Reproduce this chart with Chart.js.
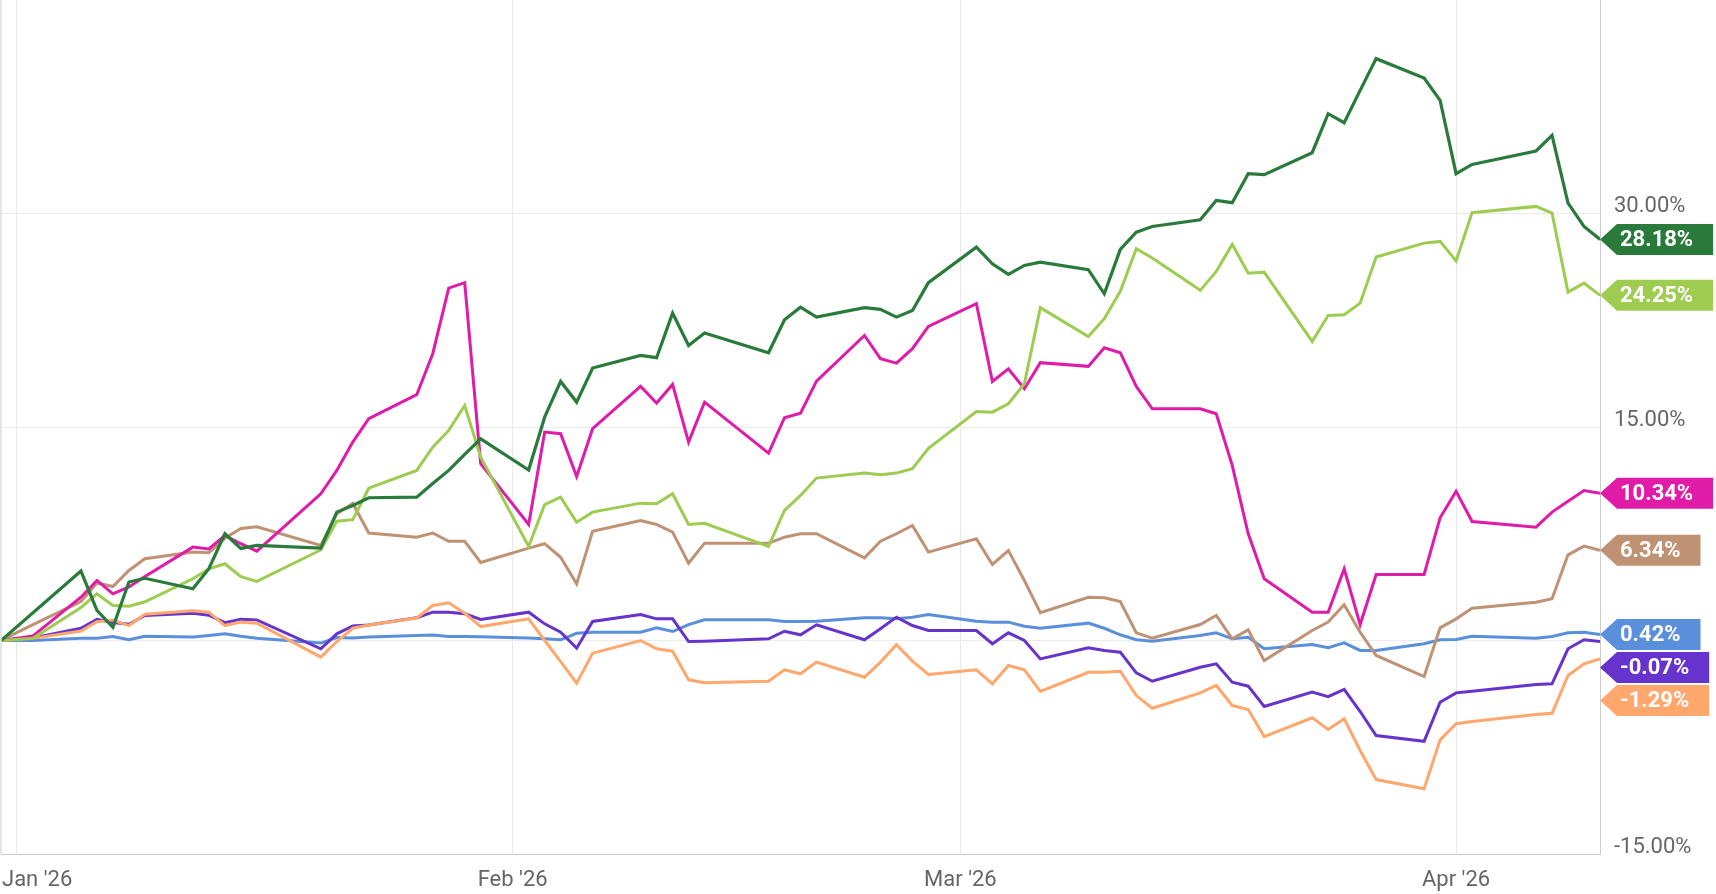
<!DOCTYPE html>
<html>
<head>
<meta charset="utf-8">
<title>Performance since Dec 31</title>
<script src="https://cdn.jsdelivr.net/npm/chart.js@4.4.1/dist/chart.umd.min.js"></script>
<style>
    html, body { margin: 0; padding: 0; background: #ffffff; }
    .chart-wrap { position: relative; width: 1716px; height: 894px; }
</style>
</head>
<body>
<div class="chart-wrap"><canvas id="performanceChart"></canvas></div>
<script>
// --- Data (percent change since Dec 31) ---
const tradeDates = [
    '2025-12-31',
    '2026-01-02', '2026-01-05', '2026-01-06', '2026-01-07', '2026-01-08', '2026-01-09',
    '2026-01-12', '2026-01-13', '2026-01-14', '2026-01-15', '2026-01-16',
    '2026-01-20', '2026-01-21', '2026-01-22', '2026-01-23',
    '2026-01-26', '2026-01-27', '2026-01-28', '2026-01-29', '2026-01-30',
    '2026-02-02', '2026-02-03', '2026-02-04', '2026-02-05', '2026-02-06',
    '2026-02-09', '2026-02-10', '2026-02-11', '2026-02-12', '2026-02-13',
    '2026-02-17', '2026-02-18', '2026-02-19', '2026-02-20',
    '2026-02-23', '2026-02-24', '2026-02-25', '2026-02-26', '2026-02-27',
    '2026-03-02', '2026-03-03', '2026-03-04', '2026-03-05', '2026-03-06',
    '2026-03-09', '2026-03-10', '2026-03-11', '2026-03-12', '2026-03-13',
    '2026-03-16', '2026-03-17', '2026-03-18', '2026-03-19', '2026-03-20',
    '2026-03-23', '2026-03-24', '2026-03-25', '2026-03-26', '2026-03-27',
    '2026-03-30', '2026-03-31',
    '2026-04-01', '2026-04-02', '2026-04-06', '2026-04-07', '2026-04-08', '2026-04-09', '2026-04-10'
];

const darkGreen = [
    0, null, 4.88, 2.11, 0.93, 4.11, 4.37,
    3.63, 5.04, 7.50, 6.47, 6.68,
    6.49, 9.02, 9.49, 10.03,
    10.07, 11.03, 11.95, 13.07, 14.17,
    11.98, 15.69, 18.20, 16.75, 19.14,
    20.03, 19.87, 23.00, 20.73, 21.60,
    20.22, 22.54, 23.42, 22.72,
    23.38, 23.26, 22.72, 23.19, 25.14,
    27.64, 26.47, 25.72, 26.35, 26.58,
    26.05, 24.36, 27.48, 28.69, 29.09,
    29.56, 30.92, 30.76, 32.80, 32.73,
    34.27, 37.01, 36.38, 38.65, 40.88,
    39.52, 37.95,
    32.80, 33.45, 34.39, 35.49, 30.73, 29.09, 28.18
];

const lightGreen = [
    0, 0.15, 2.32, 3.28, 2.46, 2.41, 2.72,
    4.34, 5.04, 5.39, 4.48, 4.15,
    6.36, 8.38, 8.49, 10.70,
    11.95, 13.58, 14.76, 16.51, 12.88,
    6.61, 9.54, 10.07, 8.31, 9.02,
    9.65, 9.61, 10.31, 8.15, 8.24,
    6.61, 9.14, 10.19, 11.41,
    11.76, 11.64, 11.76, 12.07, 13.51,
    16.09, 16.04, 16.63, 18.04, 23.38,
    21.36, 22.61, 24.53, 27.53, 26.87,
    24.60, 25.93, 27.83, 25.81, 25.88,
    21.01, 22.84, 22.89, 23.70, 26.94,
    27.92, 28.04,
    26.66, 30.06, 30.50, 30.03, 24.48, 25.11, 24.25
];

const magenta = [
    0, 0.32, 3.04, 4.22, 3.28, 3.76, 4.50,
    6.56, 6.43, 7.38, 6.80, 6.28,
    10.31, 11.95, 13.94, 15.58,
    17.27, 20.15, 24.76, 25.14, 12.42,
    8.15, 14.64, 14.53, 11.52, 14.88,
    17.85, 16.68, 17.99, 13.94, 16.75,
    13.16, 15.65, 15.97, 18.22,
    21.43, 19.80, 19.49, 20.50, 22.07,
    23.66, 18.20, 19.09, 17.69, 19.52,
    19.26, 20.57, 20.22, 17.85, 16.28,
    16.28, 15.93, 12.30, 7.50, 4.34,
    1.99, 1.99, 5.04, 1.12, 4.64,
    4.64, 8.62,
    10.49, 8.36, 7.96, 9.02, 9.79, 10.54, 10.34
];

const tan = [
    0, 1.12, 2.74, 4.04, 3.79, 4.92, 5.74,
    6.22, 6.16, 7.18, 7.87, 7.99,
    6.68, 8.90, 9.63, 7.55,
    7.26, 7.55, 6.97, 6.97, 5.48,
    6.49, 6.80, 5.85, 3.98, 7.68,
    8.43, 8.15, 7.61, 5.43, 6.84,
    6.84, 7.26, 7.50, 7.50,
    5.81, 6.98, 7.50, 8.08, 6.21,
    7.15, 5.34, 6.32, 4.22, 1.95,
    3.04, 3.00, 2.74, 0.54, 0.16,
    1.12, 1.76, 0.12, 0.75, -1.41,
    0.70, 1.29, 2.51, 0.58, -1.05,
    -2.53, 0.89,
    1.52, 2.27, 2.69, 2.93, 6.02, 6.63, 6.34
];

const blue = [
    0, 0, 0.16, 0.16, 0.28, 0.05, 0.30,
    0.25, 0.35, 0.47, 0.30, 0.16,
    -0.18, 0.21, 0.18, 0.25,
    0.35, 0.39, 0.28, 0.28, 0.26,
    0.18, 0.12, 0.05, 0.51, 0.58,
    0.58, 0.89, 0.63, 1.12, 1.45,
    1.45, 1.34, 1.34, 1.36,
    1.60, 1.60, 1.52, 1.64, 1.83,
    1.36, 1.29, 1.29, 1.00, 0.86,
    1.22, 0.86, 0.40, 0.05, -0.05,
    0.35, 0.54, 0.12, 0.23, -0.58,
    -0.28, -0.51, -0.16, -0.70, -0.70,
    -0.23, 0.05,
    0.07, 0.30, 0.16, 0.28, 0.54, 0.58, 0.42
];

const purple = [
    0, 0.18, 0.86, 1.48, 1.26, 1.14, 1.76,
    1.92, 1.78, 1.25, 1.50, 1.45,
    -0.58, 0.47, 1.02, 1.09,
    1.60, 1.99, 1.99, 1.88, 1.48,
    1.99, 1.17, 0.58, -0.54, 1.34,
    1.83, 1.52, 1.52, -0.07, -0.05,
    0.12, 0.65, 0.40, 1.10,
    0.05, 0.82, 1.64, 1.05, 0.70,
    0.70, -0.23, 0.54, 0.00, -1.29,
    -0.51, -0.70, -0.82, -2.27, -2.86,
    -1.88, -1.64, -2.93, -3.21, -4.64,
    -3.63, -3.94, -3.44, -4.99, -6.68,
    -7.08, -4.34,
    -3.68, -3.56, -3.09, -3.04, -0.58, 0.05, -0.07
];

const orange = [
    0, 0.15, 0.67, 1.32, 1.44, 1.05, 1.85,
    2.09, 1.99, 1.05, 1.29, 1.22,
    -1.17, -0.07, 0.86, 1.09,
    1.58, 2.46, 2.65, 1.91, 0.98,
    1.52, 0.00, -1.48, -3.00, -0.89,
    0.00, -0.58, -0.75, -2.76, -2.97,
    -2.86, -2.06, -2.34, -1.52,
    -2.58, -1.52, -0.30, -1.45, -2.39,
    -2.06, -3.04, -1.76, -2.06, -3.58,
    -2.23, -2.23, -2.16, -3.87, -4.76,
    -3.68, -3.16, -4.57, -4.85, -6.75,
    -5.43, -6.25, -5.50, -7.73, -9.77,
    -10.42, -6.98,
    -5.85, -5.69, -5.20, -5.11, -2.46, -1.64, -1.29
];

// x axis month marks and y axis labels
const monthDates = ['2026-01-01', '2026-02-01', '2026-03-01', '2026-04-01'];
const monthLabels = ["Jan '26", "Feb '26", "Mar '26", "Apr '26"];
const yLabelValues = [30, 15, -15];

const FONT = 'Roboto, "Noto Sans", sans-serif';

// days since Jan 1 2026 (linear x axis, no date adapter needed)
function dayOffset(iso) {
    const [y, m, d] = iso.split('-').map(Number);
    return (Date.UTC(y, m - 1, d) - Date.UTC(2026, 0, 1)) / 86400000;
}

function toPoints(values) {
    return values.map((v, i) => ({ x: dayOffset(tradeDates[i]), y: v }));
}

// --- Coloured value flags at the right edge ---
const endFlags = {
    id: 'endFlags',
    afterDatasetsDraw(chart) {
        const { ctx, chartArea, scales } = chart;
        const flags = chart.data.datasets.map(ds => {
            const last = ds.data[ds.data.length - 1].y;
            return { value: last, y: scales.y.getPixelForValue(last), color: ds.borderColor };
        }).sort((a, b) => a.y - b.y);

        // push overlapping flags down
        for (let i = 1; i < flags.length; i++) {
            if (flags[i].y < flags[i - 1].y + 33) flags[i].y = flags[i - 1].y + 33;
        }

        ctx.save();
        ctx.font = 'bold 22px ' + FONT;
        ctx.textBaseline = 'middle';
        flags.forEach(f => {
            const text = f.value.toFixed(2) + '%';
            const tip = chartArea.right;
            const w = ctx.measureText(text).width;
            const right = tip + 20 + w + 20;
            const h = 15.5;
            ctx.beginPath();
            ctx.moveTo(tip, f.y);
            ctx.lineTo(tip + 17, f.y - h);
            ctx.lineTo(right, f.y - h);
            ctx.lineTo(right, f.y + h);
            ctx.lineTo(tip + 17, f.y + h);
            ctx.closePath();
            ctx.fillStyle = f.color;
            ctx.fill();
            ctx.fillStyle = '#ffffff';
            ctx.textAlign = 'left';
            ctx.fillText(text, tip + 20, f.y + 1);
        });
        ctx.restore();
    },
    afterDraw(chart) {
        const { ctx, chartArea, scales } = chart;
        ctx.save();
        // thin frame line on the left edge
        ctx.strokeStyle = '#dddddd';
        ctx.lineWidth = 1.5;
        ctx.beginPath();
        ctx.moveTo(chartArea.left, chartArea.top);
        ctx.lineTo(chartArea.left, chartArea.bottom);
        ctx.stroke();

        // month labels, kept inside the canvas on the left
        ctx.font = '22px ' + FONT;
        ctx.fillStyle = '#666666';
        ctx.textBaseline = 'middle';
        ctx.textAlign = 'left';
        monthDates.forEach((d, i) => {
            const px = scales.x.getPixelForValue(dayOffset(d));
            const w = ctx.measureText(monthLabels[i]).width;
            const left = Math.max(2, px - w / 2);
            ctx.fillText(monthLabels[i], left, chartArea.bottom + 26);
        });
        ctx.restore();
    }
};

function initializePerformanceChart() {
    const ctx = document.getElementById('performanceChart');
    if (!ctx) return;

    const seriesList = [
        { label: 'Dark green', values: darkGreen, color: '#2a7a3b', width: 3.2 },
        { label: 'Light green', values: lightGreen, color: '#9dcc50', width: 3 },
        { label: 'Magenta', values: magenta, color: '#e01ba8', width: 3 },
        { label: 'Tan', values: tan, color: '#c09274', width: 3 },
        { label: 'Orange', values: orange, color: '#ffa76d', width: 3 },
        { label: 'Purple', values: purple, color: '#6633cc', width: 3 },
        { label: 'Blue', values: blue, color: '#5a8fdb', width: 3 }
    ];

    new Chart(ctx, {
        type: 'line',
        data: {
            datasets: seriesList.map(s => ({
                label: s.label,
                data: toPoints(s.values),
                borderColor: s.color,
                backgroundColor: s.color,
                borderWidth: s.width,
                pointRadius: 0,
                tension: 0,
                fill: false,
                spanGaps: true
            }))
        },
        options: {
            responsive: true,
            maintainAspectRatio: false,
            animation: false,
            layout: { padding: { left: 1, right: 0, top: 0, bottom: 0 } },
            scales: {
                x: {
                    type: 'linear',
                    min: dayOffset(tradeDates[0]),
                    max: dayOffset(tradeDates[tradeDates.length - 1]),
                    afterBuildTicks: scale => {
                        scale.ticks = monthDates.map(d => ({ value: dayOffset(d) }));
                    },
                    afterFit: scale => {
                        scale.height = 40;
                        scale.paddingLeft = 0;
                        scale.paddingRight = 0;
                    },
                    ticks: { display: false },
                    grid: { color: '#e9e9e9', drawTicks: false },
                    border: { display: true, color: '#cccccc' }
                },
                y: {
                    position: 'right',
                    min: -15,
                    max: 45,
                    ticks: {
                        stepSize: 15,
                        padding: 14,
                        labelOffset: -7,
                        color: '#666666',
                        font: { family: FONT, size: 22 },
                        callback: function(value) {
                            return yLabelValues.includes(value) ? value.toFixed(2) + '%' : '';
                        }
                    },
                    afterFit: scale => {
                        scale.width = 116;
                        scale.paddingTop = 0;
                        scale.paddingBottom = 0;
                    },
                    grid: {
                        drawTicks: false,
                        color: context => context.tick && context.tick.value === 45 ? 'rgba(0,0,0,0)' : '#ebebeb'
                    },
                    border: { display: true, color: '#cccccc' }
                }
            },
            plugins: {
                legend: { display: false },
                tooltip: { enabled: false }
            }
        },
        plugins: [endFlags]
    });
}

document.addEventListener('DOMContentLoaded', function() {
    initializePerformanceChart();
});
</script>
</body>
</html>
